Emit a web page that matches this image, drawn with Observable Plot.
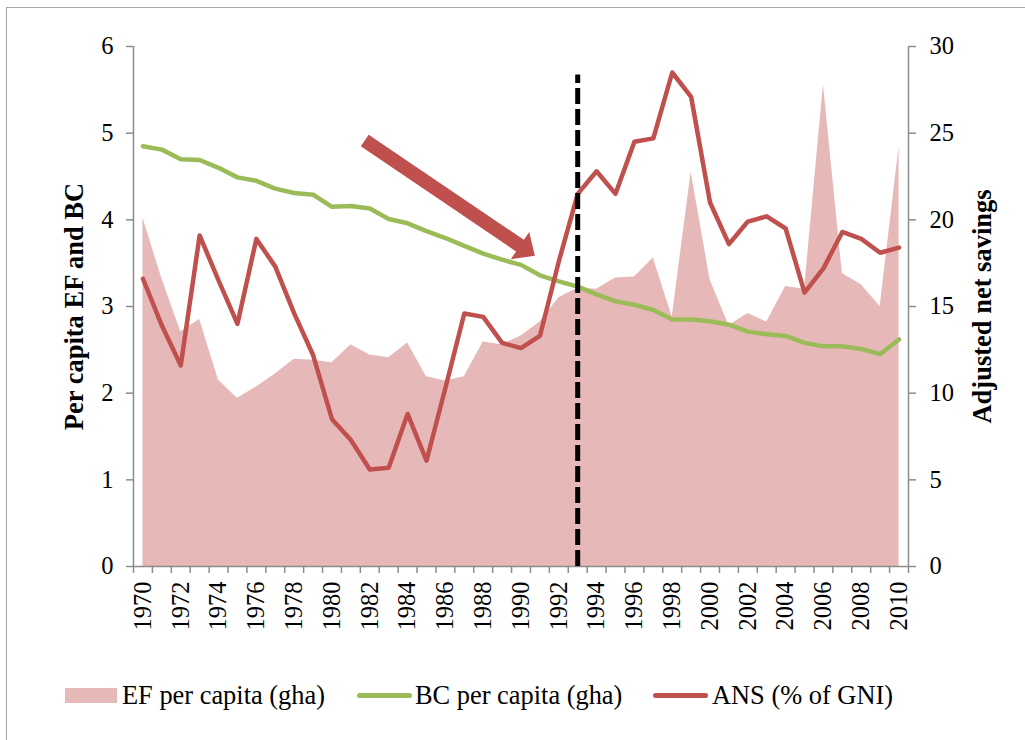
<!DOCTYPE html>
<html>
<head>
<meta charset="utf-8">
<script src="https://cdn.jsdelivr.net/npm/d3@7"></script>
<script src="https://cdn.jsdelivr.net/npm/@observablehq/plot@0.6"></script>
<style>
  body { margin: 0; background: #fff; }
  #wrap { position: relative; width: 1025px; height: 740px; overflow: hidden; }
  #frame { position: absolute; left: 6px; top: 7px; width: 1100px; height: 900px;
           border-left: 1.5px solid #a6a6a6; border-top: 1.5px solid #a6a6a6; }
  #chart { position: absolute; left: 0; top: 0; }
  .lg { position: absolute; }
  .lgt { position: absolute; top: 679px; line-height: 32px; font-size: 26.4px; color: #000; white-space: nowrap; }
</style>
</head>
<body>
<div id="wrap">
  <div id="frame"></div>
  <div id="chart"></div>
  <div id="legend"></div>
</div>
<script>
// ---- data ----
const years = d3.range(1970, 2011);
const efPerCapita = [4.02, 3.32, 2.71, 2.85, 2.15, 1.94, 2.07, 2.22, 2.39, 2.38,
                     2.35, 2.56, 2.44, 2.41, 2.58, 2.19, 2.14, 2.19, 2.59, 2.56,
                     2.66, 2.82, 3.10, 3.21, 3.20, 3.33, 3.34, 3.56, 2.88, 4.55,
                     3.31, 2.78, 2.92, 2.82, 3.23, 3.20, 5.56, 3.38, 3.25, 3.00,
                     4.84];
const bcPerCapita = [4.85, 4.81, 4.70, 4.69, 4.60, 4.49, 4.45, 4.36, 4.31, 4.29,
                     4.15, 4.16, 4.13, 4.01, 3.96, 3.87, 3.79, 3.70, 3.61, 3.54,
                     3.48, 3.36, 3.29, 3.23, 3.14, 3.06, 3.02, 2.96, 2.85, 2.85,
                     2.83, 2.79, 2.71, 2.68, 2.66, 2.58, 2.54, 2.54, 2.51, 2.45,
                     2.62];
const ansPctGNI = [16.6, 13.9, 11.6, 19.1, 16.5, 14.0, 18.9, 17.3, 14.6, 12.2,
                   8.5, 7.3, 5.6, 5.7, 8.8, 6.1, 10.3, 14.6, 14.4, 12.9,
                   12.6, 13.3, 17.6, 21.5, 22.8, 21.5, 24.5, 24.7, 28.5, 27.1,
                   21.0, 18.6, 19.9, 20.2, 19.5, 15.8, 17.2, 19.3, 18.9, 18.1,
                   18.4];
const leftTicks = [0, 1, 2, 3, 4, 5, 6];
const rightTicks = [0, 5, 10, 15, 20, 25, 30];
const yearLabels = d3.range(1970, 2011, 2);
const categoryEdges = d3.range(1969.5, 2011, 1);
const markerYear = [1993];
const markerTop = 5.67;
const arrowFrom = [1981.76, 4.91];
const arrowTo = [1990.76, 3.58];
const leftTitle = "Per capita EF and BC";
const rightTitle = "Adjusted net savings";
const legendLabels = ["EF per capita (gha)", "BC per capita (gha)", "ANS (% of GNI)"];

// ---- pick an installed Times-like serif font ----
function pickFont(cands) {
  const c = document.createElement("canvas").getContext("2d");
  const s = "EF per capita 1970 (gha) Wmi";
  const base = {};
  ["monospace", "sans-serif"].forEach(b => { c.font = "40px " + b; base[b] = c.measureText(s).width; });
  for (const f of cands) {
    let ok = false;
    for (const b of ["monospace", "sans-serif"]) {
      c.font = `40px "${f}", ${b}`;
      if (Math.abs(c.measureText(s).width - base[b]) > 0.5) ok = true;
    }
    if (ok) return `"${f}"`;
  }
  return "serif";
}
const serifFont = pickFont(["Liberation Serif", "Tinos", "Times New Roman", "Nimbus Roman", "Nimbus Roman No9 L", "Noto Serif", "DejaVu Serif"]);
document.body.style.fontFamily = serifFont + ", serif";

// ---- styles ----
const cEF = "#e6b9b8", cBC = "#9bbb59", cANS = "#c0504d", cAxis = "#8c8c8c";
const ratio = leftTicks[leftTicks.length - 1] / rightTicks[rightTicks.length - 1];

const table = years.map((y, i) => ({
  year: y, ef: efPerCapita[i], bc: bcPerCapita[i], ans: ansPctGNI[i] * ratio
}));

function arrowMark(index, scales) {
  const x0 = scales.x(arrowFrom[0]), y0 = scales.y(arrowFrom[1]);
  const x1 = scales.x(arrowTo[0]), y1 = scales.y(arrowTo[1]);
  const len = Math.hypot(x1 - x0, y1 - y0);
  const ux = (x1 - x0) / len, uy = (y1 - y0) / len;
  const nx = -uy, ny = ux;
  const sw = 14, hw = 33, hl = 18;
  const bx = x1 - ux * hl, by = y1 - uy * hl;
  const pts = [
    [x0 + nx * sw / 2, y0 + ny * sw / 2],
    [bx + nx * sw / 2, by + ny * sw / 2],
    [bx + nx * hw / 2, by + ny * hw / 2],
    [x1, y1],
    [bx - nx * hw / 2, by - ny * hw / 2],
    [bx - nx * sw / 2, by - ny * sw / 2],
    [x0 - nx * sw / 2, y0 - ny * sw / 2]
  ];
  const p = document.createElementNS("http://www.w3.org/2000/svg", "polygon");
  p.setAttribute("points", pts.map(d => d.join(",")).join(" "));
  p.setAttribute("fill", cANS);
  return p;
}

const W = 1025, H = 640;
const chart = Plot.plot({
  width: W, height: H,
  marginLeft: 133, marginRight: 117, marginTop: 46, marginBottom: 74,
  style: { fontFamily: serifFont + ", serif", fontSize: "24.5px", background: "transparent", overflow: "visible", color: "#000" },
  x: { domain: [1969.5, 2010.5] },
  y: { domain: [0, 6] },
  marks: [
    Plot.areaY(table, { x: "year", y: "ef", fill: cEF }),
    Plot.ruleX([1969.5, 2010.5], { stroke: cAxis, strokeWidth: 1.5 }),
    Plot.ruleY([0], { stroke: cAxis, strokeWidth: 1.5 }),
    Plot.axisY({ anchor: "left", ticks: leftTicks, tickSize: 7, tickPadding: 13, fontSize: 24.5,
                 stroke: cAxis, strokeWidth: 1.5, fill: "#000", label: null, tickFormat: d => String(d) }),
    Plot.axisY({ anchor: "right", ticks: leftTicks, tickSize: 7, tickPadding: 14, fontSize: 24.5,
                 stroke: cAxis, strokeWidth: 1.5, fill: "#000", label: null,
                 tickFormat: d => String(rightTicks[leftTicks.indexOf(d)]) }),
    Plot.axisX({ ticks: categoryEdges, tickSize: 7, tickFormat: () => "", stroke: cAxis, strokeWidth: 1.5, label: null }),
    Plot.axisX({ ticks: yearLabels, tickSize: 0, tickPadding: 15, tickRotate: -90, fontSize: 24.5,
                 fill: "#000", label: null, tickFormat: d => String(d) }),
    Plot.line(table, { x: "year", y: "bc", stroke: cBC, strokeWidth: 4.5, strokeLinejoin: "round", strokeLinecap: "round" }),
    Plot.line(table, { x: "year", y: "ans", stroke: cANS, strokeWidth: 4.5, strokeLinejoin: "round", strokeLinecap: "round" }),
    Plot.ruleX(markerYear, { y1: 0, y2: markerTop, stroke: "#000", strokeWidth: 5, strokeDasharray: "16,5" }),
    arrowMark,
    Plot.text([leftTitle], { frameAnchor: "left", textAnchor: "middle", dx: -59, rotate: -90, fontWeight: "bold", fontSize: 26.5, fill: "#000" }),
    Plot.text([rightTitle], { frameAnchor: "right", textAnchor: "middle", dx: 74, rotate: -90, fontWeight: "bold", fontSize: 26.5, fill: "#000" })
  ]
});
document.getElementById("chart").appendChild(chart);

// ---- legend (HTML, below the SVG) ----
const lg = document.getElementById("legend");
const swatches = [
  { kind: "rect", color: cEF, x: 65, w: 52, tx: 122 },
  { kind: "line", color: cBC, x: 357, w: 55, tx: 415 },
  { kind: "line", color: cANS, x: 653, w: 55, tx: 712 }
];
swatches.forEach((s, i) => {
  const sw = document.createElement("div");
  sw.className = "lg";
  sw.style.left = s.x + "px";
  sw.style.width = s.w + "px";
  sw.style.background = s.color;
  if (s.kind === "rect") { sw.style.top = "688px"; sw.style.height = "15px"; }
  else { sw.style.top = "693px"; sw.style.height = "5px"; sw.style.borderRadius = "3px"; }
  lg.appendChild(sw);
  const t = document.createElement("div");
  t.className = "lgt";
  t.style.left = s.tx + "px";
  t.textContent = legendLabels[i];
  lg.appendChild(t);
});
</script>
</body>
</html>
